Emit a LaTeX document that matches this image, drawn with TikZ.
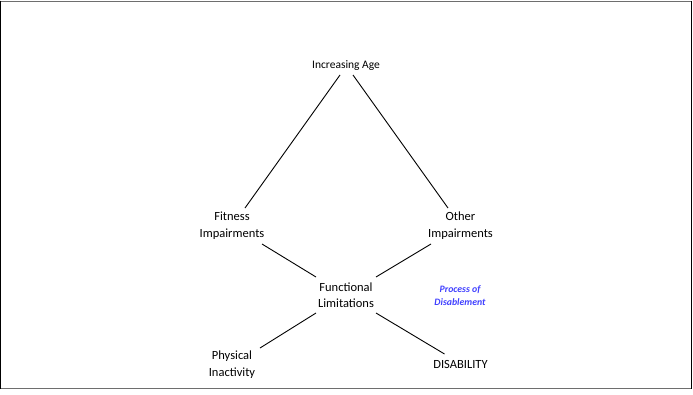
\documentclass[tikz,border=0pt]{standalone}
\usepackage{fontspec}
\setmainfont{Carlito}
\definecolor{procblue}{RGB}{64,64,255}
\definecolor{framegray}{RGB}{110,110,110}
\begin{document}
\begin{tikzpicture}[x=1pt,y=-1pt,
  label/.style={font=\fontsize{12.5}{16.5}\selectfont, align=center, inner sep=0pt},
  link/.style={draw=black, line width=0.9pt},
  note/.style={font=\fontsize{9.8}{13}\selectfont\bfseries\itshape, text=procblue, align=center, inner sep=0pt}]
  \useasboundingbox (0,0) rectangle (693,394);
  % frame
  \draw[framegray, line width=1pt] (0,1) -- (691.5,1);
  \draw[framegray, line width=1.3pt] (0,388.5) -- (691.5,388.5);
  \draw[black, line width=1.4pt] (0.7,0.5) -- (0.7,389);
  \draw[black, line width=1.4pt] (691.3,0.5) -- (691.3,389);

  % nodes
  \node[label, font=\fontsize{11.5}{14}\selectfont] (age) at (346,65.5) {Increasing Age};
  \node[label] (fit) at (232,225.5) {Fitness\\Impairments};
  \node[label] (oth) at (460.5,225.5) {Other\\Impairments};
  \node[label] (fun) at (346,295) {Functional\\Limitations};
  \node[label] (phy) at (232,364.5) {Physical\\Inactivity};
  \node[label] (dis) at (460.5,364) {DISABILITY};
  \node[note] (proc) at (460,295.5) {Process of\\Disablement};

  % connector end points
  \coordinate (a1) at (340,75);
  \coordinate (a2) at (353,75);
  \coordinate (f1) at (245,208);
  \coordinate (o1) at (448,208);
  \coordinate (f2) at (262,244);
  \coordinate (o2) at (431,244);
  \coordinate (l1) at (316,277);
  \coordinate (l2) at (376,277);
  \coordinate (l3) at (316,313);
  \coordinate (l4) at (376,313);
  \coordinate (p1) at (260,348);
  \coordinate (d1) at (444.5,354);

  % connectors
  \draw[link] (a1) -- (f1);
  \draw[link] (a2) -- (o1);
  \draw[link] (f2) -- (l1);
  \draw[link] (o2) -- (l2);
  \draw[link] (l3) -- (p1);
  \draw[link] (l4) -- (d1);
\end{tikzpicture}
\end{document}
